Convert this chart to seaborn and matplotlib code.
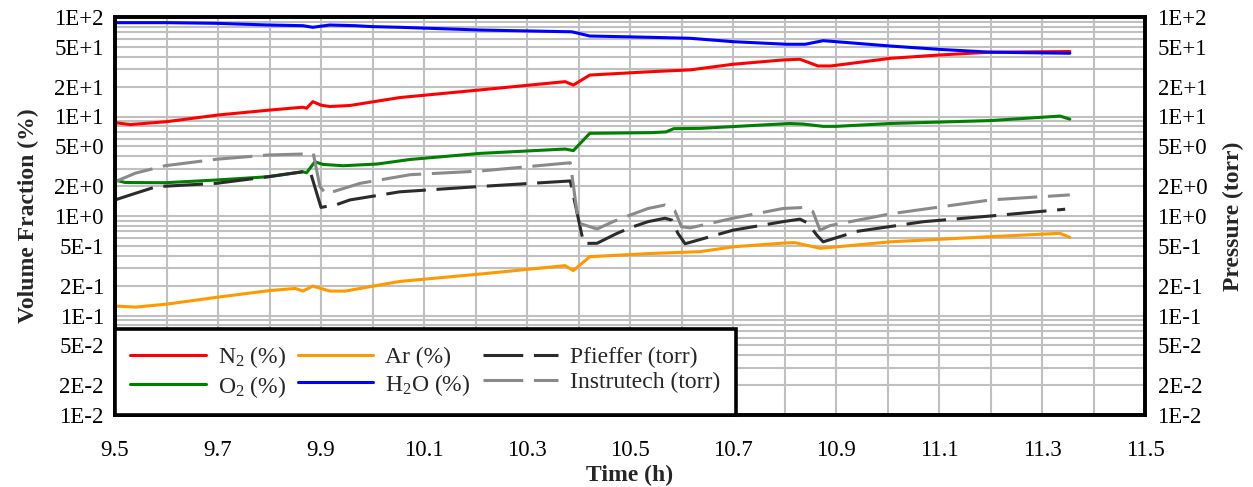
import numpy as np
import matplotlib
matplotlib.use("Agg")
import matplotlib.pyplot as plt
import matplotlib.ticker as mticker
import seaborn as sns

# ---------------- data ----------------
t_n2 = [9.50, 9.53, 9.60, 9.70, 9.80, 9.865, 9.872, 9.884, 9.90, 9.917, 9.956, 10.053, 10.209,
        10.374, 10.39, 10.422, 10.54, 10.617, 10.70, 10.797, 10.83, 10.865, 10.89, 11.005, 11.10,
        11.20, 11.354]
n2 = [8.67, 8.3, 8.87, 10.35, 11.6, 12.4, 12.1, 14.1, 13.0, 12.6, 12.9, 15.5, 18.5,
      22.4, 20.7, 26.1, 28.2, 29.4, 33.5, 37.0, 37.6, 32.2, 32.2, 38.4, 41.5,
      44.3, 45.0]

t_o2 = [9.50, 9.52, 9.597, 9.697, 9.797, 9.865, 9.872, 9.888, 9.904, 9.943, 10.009, 10.073, 10.209,
        10.374, 10.39, 10.422, 10.54, 10.57, 10.585, 10.636, 10.81, 10.836, 10.875, 10.90, 11.005,
        11.20, 11.335, 11.354]
o2 = [2.30, 2.17, 2.16, 2.30, 2.48, 2.78, 2.72, 3.50, 3.30, 3.20, 3.33, 3.70, 4.26,
      4.71, 4.54, 6.78, 6.88, 7.0, 7.55, 7.6, 8.5, 8.4, 7.96, 7.96, 8.5,
      9.1, 10.1, 9.4]

t_ar = [9.50, 9.54, 9.60, 9.70, 9.80, 9.85, 9.865, 9.884, 9.917, 9.947, 10.053, 10.209,
        10.374, 10.39, 10.422, 10.54, 10.636, 10.70, 10.80, 10.82, 10.87, 11.005, 11.20,
        11.335, 11.354]
ar = [0.1245, 0.1214, 0.130, 0.153, 0.178, 0.187, 0.176, 0.1976, 0.176, 0.176, 0.22, 0.261,
      0.317, 0.283, 0.39, 0.42, 0.438, 0.49, 0.535, 0.54, 0.473, 0.55, 0.62,
      0.67, 0.61]

t_h2o = [9.50, 9.60, 9.697, 9.797, 9.865, 9.884, 9.917, 9.966, 10.0, 10.053, 10.209, 10.374,
         10.387, 10.422, 10.539, 10.617, 10.70, 10.805, 10.84, 10.875, 10.90, 11.005, 11.10,
         11.20, 11.354]
h2o = [87.7, 87.7, 86.4, 83.1, 81.8, 78.8, 83.1, 81.8, 80.0, 78.8, 74.0, 71.2,
       71.0, 64.4, 62.5, 61.1, 56.5, 53.2, 53.2, 57.8, 56.5, 51.1, 47.3,
       44.3, 43.2]

t_pf = [9.50, 9.53, 9.58, 9.697, 9.797, 9.865, 9.879, 9.90, 9.93, 9.956, 10.053, 10.209,
        10.384, 10.41, 10.436, 10.475, 10.506, 10.535, 10.568, 10.581, 10.593, 10.607,
        10.70, 10.797, 10.83, 10.845, 10.863, 10.875, 10.94, 11.07, 11.20, 11.345]
pf = [1.45, 1.63, 1.97, 2.13, 2.48, 2.79, 2.80, 1.22, 1.30, 1.45, 1.75, 1.98,
      2.25, 0.53, 0.532, 0.67, 0.78, 0.877, 0.95, 0.91, 0.67, 0.526,
      0.72, 0.877, 0.93, 0.85, 0.64, 0.55, 0.70, 0.877, 1.0, 1.17]

t_it = [9.50, 9.54, 9.597, 9.697, 9.797, 9.865, 9.885, 9.898, 9.91, 9.976, 10.073, 10.209,
        10.384, 10.40, 10.436, 10.467, 10.50, 10.535, 10.568, 10.587, 10.60, 10.617,
        10.70, 10.797, 10.84, 10.855, 10.869, 10.888, 11.005, 11.20, 11.354]
it = [2.21, 2.70, 3.2, 3.72, 4.1, 4.2, 4.25, 1.97, 1.67, 2.13, 2.60, 2.83,
      3.43, 0.85, 0.74, 0.877, 1.02, 1.19, 1.29, 1.13, 0.78, 0.76,
      0.95, 1.19, 1.22, 1.11, 0.72, 0.80, 1.05, 1.45, 1.63]

y_ticks = [1e-2, 2e-2, 5e-2, 1e-1, 2e-1, 5e-1, 1e0, 2e0, 5e0, 1e1, 2e1, 5e1, 1e2]
x_ticks = [9.5, 9.7, 9.9, 10.1, 10.3, 10.5, 10.7, 10.9, 11.1, 11.3, 11.5]
x_grid_minor = [9.6, 9.8, 10.0, 10.2, 10.4, 10.6, 10.8, 11.0, 11.2, 11.4]

labels = ["N$_2$ (%)", "O$_2$ (%)", "Ar (%)", "H$_2$O (%)", "Pfieffer (torr)", "Instrutech (torr)"]

# ---------------- style ----------------
sns.set_theme(style="white")
plt.rcParams['font.family'] = ['Liberation Serif', 'DejaVu Serif']
plt.rcParams['mathtext.fontset'] = 'custom'
plt.rcParams['mathtext.rm'] = 'Liberation Serif'
plt.rcParams['mathtext.it'] = 'Liberation Serif:italic'
plt.rcParams['mathtext.bf'] = 'Liberation Serif:bold'

FS_TICK = 16.5
FS_LAB = 17
FS_LEG = 17
LW = 2.2
DASH = (0, (13, 3.5))

fig = plt.figure(figsize=(12.53, 4.87), dpi=100)
ax = fig.add_axes([115 / 1253, 1 - 415 / 487, 1030 / 1253, 398 / 487])
ax2 = ax.twinx()

for a in (ax, ax2):
    a.set_yscale('log')
    a.set_ylim(1e-2, 1e2)
    a.set_xlim(9.5, 11.5)

sns.lineplot(x=t_n2, y=n2, ax=ax, color='#ff0000', lw=LW, label=labels[0], legend=False, estimator=None, sort=False)
sns.lineplot(x=t_o2, y=o2, ax=ax, color='#008000', lw=LW, label=labels[1], legend=False, estimator=None, sort=False)
sns.lineplot(x=t_ar, y=ar, ax=ax, color='#ff9900', lw=LW, label=labels[2], legend=False, estimator=None, sort=False)
sns.lineplot(x=t_h2o, y=h2o, ax=ax, color='#0000ff', lw=LW, label=labels[3], legend=False, estimator=None, sort=False)
sns.lineplot(x=t_pf, y=pf, ax=ax2, color='#2b2b2b', lw=LW, linestyle=DASH, label=labels[4], legend=False, estimator=None, sort=False)
sns.lineplot(x=t_it, y=it, ax=ax2, color='#8a8a8a', lw=LW, linestyle=DASH, label=labels[5], legend=False, estimator=None, sort=False)


def sci(v, p):
    e = int(np.floor(np.log10(v) + 1e-9))
    m = int(round(v / 10 ** e))
    return "{:d}E{:+d}".format(m, e)


fmt = mticker.FuncFormatter(sci)
for a in (ax, ax2):
    a.yaxis.set_major_locator(mticker.FixedLocator(y_ticks))
    a.yaxis.set_major_formatter(fmt)
    a.yaxis.set_minor_locator(mticker.LogLocator(base=10, subs=np.arange(1, 10), numticks=100))
    a.yaxis.set_minor_formatter(mticker.NullFormatter())
    a.xaxis.set_major_locator(mticker.FixedLocator(x_ticks))
    a.xaxis.set_minor_locator(mticker.FixedLocator(x_grid_minor))
    a.xaxis.set_major_formatter(mticker.FuncFormatter(lambda v, p: f"{v:.1f}"))
    a.tick_params(which='both', length=0, labelsize=FS_TICK, colors='black')
    for s in a.spines.values():
        s.set_color('black')
        s.set_linewidth(2.6)

ax.tick_params(axis='y', pad=8)
ax2.tick_params(axis='y', pad=9)
ax.tick_params(axis='x', pad=18)
ax.grid(which='both', axis='both', color='#c0c0c0', lw=1.5)
ax2.grid(False)
ax.set_axisbelow(True)

ax.set_xlabel("Time (h)", fontsize=FS_LAB, fontweight='bold', labelpad=3)
ax.set_ylabel("Volume Fraction (%)", fontsize=FS_LAB, fontweight='bold', labelpad=11)
ax2.set_ylabel("Pressure (torr)", fontsize=FS_LAB, fontweight='bold', labelpad=11)

handles = list(ax.get_lines()) + list(ax2.get_lines())
leg = ax2.legend(handles, labels, ncol=3, loc='lower left', bbox_to_anchor=(0, 0),
                 borderaxespad=0, frameon=True, fancybox=False, edgecolor='black',
                 framealpha=1, handlelength=3.2, handletextpad=0.5, columnspacing=0.5,
                 labelspacing=0.15, borderpad=0.65, fontsize=FS_LEG)
leg.get_frame().set_linewidth(2.6)

fig.savefig("out.png", dpi=100)
